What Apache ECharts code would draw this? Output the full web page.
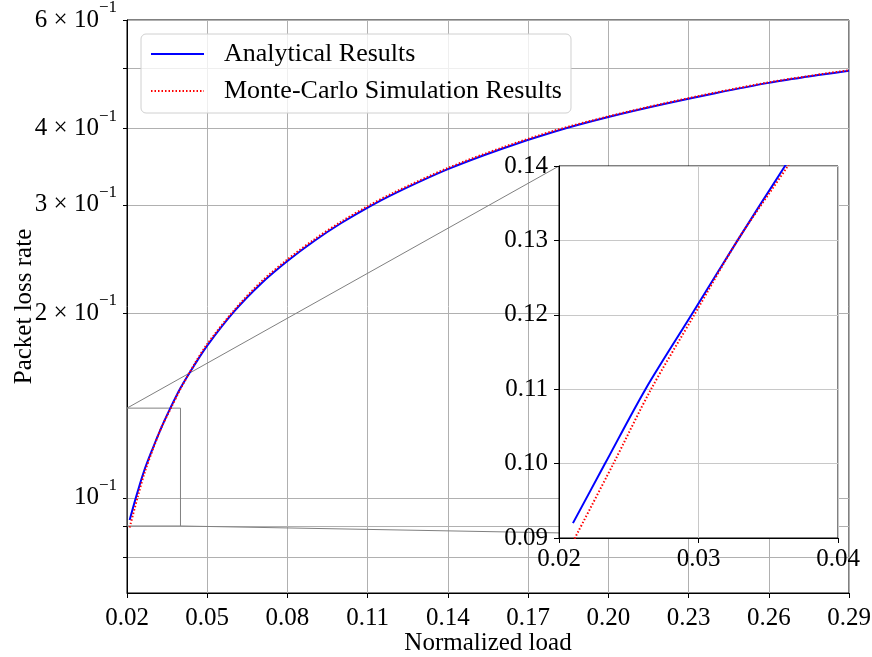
<!DOCTYPE html>
<html>
<head>
<meta charset="utf-8">
<script src="https://cdn.jsdelivr.net/npm/echarts@6/dist/echarts.min.js"></script>
<style>
html,body{margin:0;padding:0;background:#fff;}
#main{width:872px;height:657px;}
</style>
</head>
<body>
<div id="main"></div>
<script>
// ---- data ----
const loadAnalytical = [0.021, 0.0233, 0.0262, 0.0295, 0.0328, 0.0362, 0.040, 0.045, 0.050, 0.060, 0.070, 0.080, 0.090, 0.100, 0.110, 0.120, 0.140, 0.160, 0.180, 0.200, 0.220, 0.240, 0.260, 0.280, 0.290];
const lossAnalytical = [0.092, 0.100, 0.110, 0.120, 0.130, 0.140, 0.151, 0.164, 0.177, 0.201, 0.223, 0.243, 0.262, 0.280, 0.297, 0.313, 0.343, 0.370, 0.395, 0.417, 0.437, 0.456, 0.474, 0.489, 0.496];
const loadSimulation = [0.021, 0.0239, 0.0266, 0.0297, 0.0328, 0.0364, 0.040, 0.045, 0.050, 0.060, 0.070, 0.080, 0.090, 0.100, 0.110, 0.120, 0.140, 0.160, 0.180, 0.200, 0.220, 0.240, 0.260, 0.280, 0.290];
const lossSimulation = [0.0895, 0.100, 0.110, 0.120, 0.130, 0.140, 0.1505, 0.1645, 0.178, 0.202, 0.2245, 0.2445, 0.2635, 0.2815, 0.2985, 0.3145, 0.3445, 0.3715, 0.3965, 0.418, 0.438, 0.457, 0.475, 0.490, 0.497];

const seriesNames = ['Analytical Results', 'Monte-Carlo Simulation Results'];
const loadTicks = [0.02, 0.05, 0.08, 0.11, 0.14, 0.17, 0.20, 0.23, 0.26, 0.29];
const loadRange = [0.02, 0.29];
const lossRange = [0.07, 0.6];
const lossLabelValues = [0.1, 0.2, 0.3, 0.4, 0.6];
const lossLabelMantissa = ['', '2 × ', '3 × ', '4 × ', '6 × '];
const lossLabelExponent = '−1';
const lossTickValues = [0.08, 0.09, 0.1, 0.2, 0.3, 0.4, 0.5, 0.6];

const insetLoadRange = [0.02, 0.04];
const insetLoadTicks = [0.02, 0.03, 0.04];
const insetLossRange = [0.09, 0.14];

const xTitle = 'Normalized load';
const yTitle = 'Packet loss rate';

// ---- chart ----
const FONT = '"Liberation Serif", "Times New Roman", serif';
const pairs = (xs, ys) => xs.map((x, i) => [x, ys[i]]);
const chart = echarts.init(document.getElementById('main'), null, {renderer: 'canvas'});

const blue = '#0000ff', red = '#ff0000', grid = '#b0b0b0';
const mainLeft = 127, mainTop = 20, mainRight = 23, mainBottom = 64;
const insetLeft = 559, insetTop = 166, insetW = 279, insetH = 372;

function lossLabel(v) {
  const i = lossLabelValues.findIndex(t => Math.abs(t - v) < 1e-9);
  if (i < 0) return '';
  return '{m|' + lossLabelMantissa[i] + '10}{s|' + lossLabelExponent + '}';
}

const dotted = {color: red, width: 2, type: [1.5, 2], cap: 'butt'};
const solid = {color: blue, width: 2};
const SMOOTH = 0.3;

const option = {
  animation: false,
  backgroundColor: '#ffffff',
  textStyle: {fontFamily: FONT},
  grid: [
    {left: mainLeft, top: mainTop, right: mainRight, bottom: mainBottom, containLabel: false, outerBoundsMode: 'none',
     show: true, borderColor: '#000', borderWidth: 1, backgroundColor: 'transparent', z: 0},
    {left: insetLeft, top: insetTop, width: insetW, height: insetH, containLabel: false, outerBoundsMode: 'none',
     show: true, borderColor: '#000', borderWidth: 1, backgroundColor: '#ffffff', z: 3}
  ],
  xAxis: [
    {type: 'value', gridIndex: 0, min: loadRange[0], max: loadRange[1], z: 1,
     name: xTitle, nameLocation: 'middle', nameGap: 38, nameMoveOverlap: false,
     nameTextStyle: {fontFamily: FONT, fontSize: 25, color: '#000'},
     axisLine: {show: true, onZero: false, lineStyle: {color: '#000', width: 1}},
     axisTick: {show: true, inside: false, length: 5, lineStyle: {color: '#000'}, customValues: loadTicks},
     axisLabel: {customValues: loadTicks, formatter: v => v.toFixed(2), fontFamily: FONT, fontSize: 25, color: '#000', margin: 13},
     splitLine: {show: true, lineStyle: {color: grid, width: 1}}},
    {type: 'value', gridIndex: 1, min: insetLoadRange[0], max: insetLoadRange[1], z: 4,
     axisLine: {show: true, onZero: false, lineStyle: {color: '#000', width: 1}},
     axisTick: {show: true, inside: false, length: 5, lineStyle: {color: '#000'}, customValues: insetLoadTicks},
     axisLabel: {customValues: insetLoadTicks, formatter: v => v.toFixed(2), fontFamily: FONT, fontSize: 25, color: '#000', margin: 9},
     splitLine: {show: true, lineStyle: {color: '#c8c8c8', width: 1}}}
  ],
  yAxis: [
    {type: 'log', gridIndex: 0, min: lossRange[0], max: lossRange[1], logBase: 10, z: 1,
     name: yTitle, nameLocation: 'middle', nameGap: 90, nameMoveOverlap: false,
     nameTextStyle: {fontFamily: FONT, fontSize: 25, color: '#000'},
     axisLine: {show: true, onZero: false, lineStyle: {color: '#000', width: 1}},
     axisTick: {show: true, inside: false, length: 4, lineStyle: {color: '#000'}, customValues: lossTickValues},
     axisLabel: {customValues: lossLabelValues, formatter: lossLabel, margin: 10, color: '#000',
       rich: {
         m: {fontFamily: FONT, fontSize: 25, color: '#000', verticalAlign: 'bottom', lineHeight: 25},
         s: {fontFamily: FONT, fontSize: 17, color: '#000', verticalAlign: 'bottom', lineHeight: 17, padding: [0, 0, 16, 0]}
       }},
     splitLine: {show: true, lineStyle: {color: grid, width: 1}}},
    {type: 'value', gridIndex: 1, min: insetLossRange[0], max: insetLossRange[1], interval: 0.01, z: 4,
     axisLine: {show: true, onZero: false, lineStyle: {color: '#000', width: 1}},
     axisTick: {show: true, inside: false, length: 5, lineStyle: {color: '#000'}},
     axisLabel: {formatter: v => v.toFixed(2), fontFamily: FONT, fontSize: 25, color: '#000', margin: 11},
     splitLine: {show: true, lineStyle: {color: '#c8c8c8', width: 1}}}
  ],
  legend: {
    data: seriesNames, orient: 'vertical', left: 141, top: 34,
    itemWidth: 53, itemHeight: 12, itemGap: 7,
    padding: [5, 9, 7, 9],
    itemStyle: {opacity: 0},
    backgroundColor: 'rgba(255,255,255,0.8)', borderColor: '#d0d0d0', borderWidth: 1, borderRadius: 5,
    textStyle: {fontFamily: FONT, fontSize: 26, color: '#000', lineHeight: 30, padding: [0, 0, 0, 15]},
    z: 10
  },
  series: [
    {name: seriesNames[0], type: 'line', xAxisIndex: 0, yAxisIndex: 0, data: pairs(loadAnalytical, lossAnalytical),
     symbol: 'none', smooth: SMOOTH, lineStyle: solid, itemStyle: {color: blue}, z: 3, silent: true},
    {name: seriesNames[1], type: 'line', xAxisIndex: 0, yAxisIndex: 0, data: pairs(loadSimulation, lossSimulation),
     symbol: 'none', smooth: SMOOTH, lineStyle: dotted, itemStyle: {color: red}, z: 4, silent: true},
    {name: 'zoomBox', type: 'line', xAxisIndex: 0, yAxisIndex: 0,
     data: [[insetLoadRange[0], insetLossRange[0]], [insetLoadRange[1], insetLossRange[0]], [insetLoadRange[1], insetLossRange[1]], [insetLoadRange[0], insetLossRange[1]], [insetLoadRange[0], insetLossRange[0]]],
     symbol: 'none', lineStyle: {color: '#808080', width: 1}, z: 2, silent: true},
    {name: seriesNames[0], type: 'line', xAxisIndex: 1, yAxisIndex: 1, data: pairs(loadAnalytical, lossAnalytical),
     symbol: 'none', smooth: SMOOTH, lineStyle: solid, itemStyle: {color: blue}, z: 6, clip: true, silent: true},
    {name: seriesNames[1], type: 'line', xAxisIndex: 1, yAxisIndex: 1, data: pairs(loadSimulation, lossSimulation),
     symbol: 'none', smooth: SMOOTH, lineStyle: dotted, itemStyle: {color: red}, z: 7, clip: true, silent: true}
  ]
};
chart.setOption(option);

// connector lines between zoom box and inset corners
const mainTL = chart.convertToPixel({xAxisIndex: 0, yAxisIndex: 0}, [insetLoadRange[0], insetLossRange[1]]);
const mainBR = chart.convertToPixel({xAxisIndex: 0, yAxisIndex: 0}, [insetLoadRange[1], insetLossRange[0]]);
const insTL = chart.convertToPixel({xAxisIndex: 1, yAxisIndex: 1}, [insetLoadRange[0], insetLossRange[1]]);
const insBR = chart.convertToPixel({xAxisIndex: 1, yAxisIndex: 1}, [insetLoadRange[1], insetLossRange[0]]);
chart.setOption({
  graphic: [
    {type: 'line', z: 2, silent: true, shape: {x1: mainTL[0], y1: mainTL[1], x2: insTL[0], y2: insTL[1]}, style: {stroke: '#808080', lineWidth: 1}},
    {type: 'line', z: 2, silent: true, shape: {x1: mainBR[0], y1: mainBR[1], x2: insBR[0], y2: insBR[1]}, style: {stroke: '#808080', lineWidth: 1}}
  ]
});
</script>
</body>
</html>
